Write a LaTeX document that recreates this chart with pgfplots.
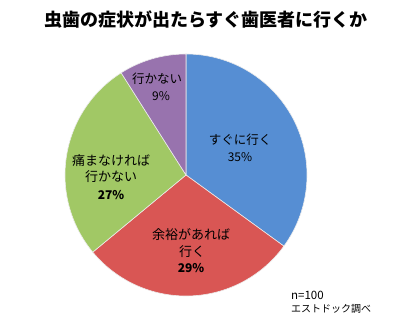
\documentclass[border=0pt]{standalone}
\usepackage{pgfplots}
\pgfplotsset{compat=1.18}
\usepackage{fontspec}
\setmainfont{Noto Sans CJK JP}
\definecolor{cBlue}{HTML}{568ED3}
\definecolor{cRed}{HTML}{D95654}
\definecolor{cGreen}{HTML}{A1C865}
\definecolor{cPurple}{HTML}{9873AE}
\newcommand\slice[3]{%
  \addplot[fill=#3, draw=white!85!gray, line width=0.6pt, domain=#1:#2, samples=90]
    ({186+121*cos(x)},{147+121*sin(x)}) -- (axis cs:186,147) -- cycle;}
\begin{document}
\begin{tikzpicture}
\begin{axis}[scale only axis, width=400bp, height=322bp,
  xmin=0, xmax=400, ymin=0, ymax=322, hide axis, clip=false]
% values 35, 29, 27, 9 (%), clockwise from 12 o'clock
\slice{-36}{90}{cBlue}
\slice{-140.4}{-36}{cRed}
\slice{-237.6}{-140.4}{cGreen}
\slice{-270}{-237.6}{cPurple}
\path (axis cs:0,0) (axis cs:400,322);
\node[font=\fontsize{18bp}{20bp}\selectfont\bfseries] at (axis cs:206,302) {虫歯の症状が出たらすぐ歯医者に行くか};
\node[font=\fontsize{12.5bp}{14bp}\selectfont] at (axis cs:240,182) {すぐに行く};
\node[font=\fontsize{12bp}{14bp}\selectfont] at (axis cs:240,165) {35\%};
\node[font=\fontsize{12.5bp}{14bp}\selectfont] at (axis cs:157,243) {行かない};
\node[font=\fontsize{12bp}{14bp}\selectfont] at (axis cs:161,226) {9\%};
\node[font=\fontsize{13bp}{14bp}\selectfont] at (axis cs:111,161) {痛まなければ};
\node[font=\fontsize{13bp}{14bp}\selectfont] at (axis cs:111,145) {行かない};
\node[font=\fontsize{12bp}{14bp}\selectfont\bfseries] at (axis cs:111,127) {27\%};
\node[font=\fontsize{13bp}{15bp}\selectfont] at (axis cs:191,87) {余裕があれば};
\node[font=\fontsize{13bp}{15bp}\selectfont] at (axis cs:192,70) {行く};
\node[font=\fontsize{12bp}{14bp}\selectfont\bfseries] at (axis cs:191,54) {29\%};
\node[anchor=west, inner sep=0pt, font=\fontsize{11.5bp}{13bp}\selectfont] at (axis cs:291,27) {n=100};
\node[anchor=west, inner sep=0pt, font=\fontsize{10bp}{12bp}\selectfont] at (axis cs:291,13) {エストドック調べ};
\end{axis}
\end{tikzpicture}
\end{document}
